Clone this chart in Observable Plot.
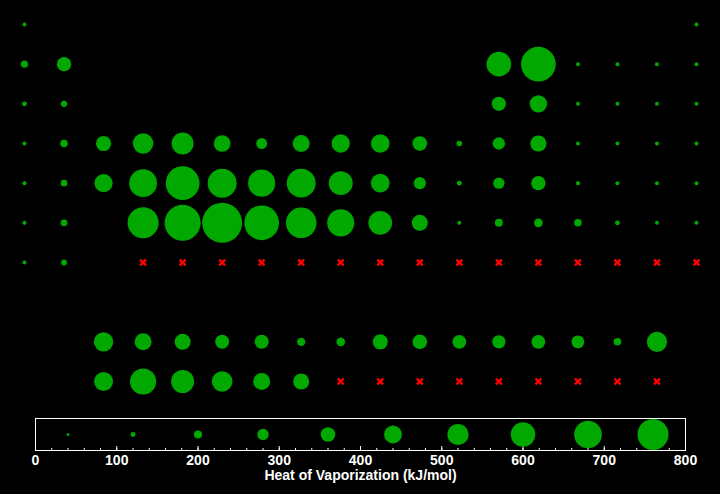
<!DOCTYPE html>
<html><head><meta charset="utf-8">
<script src="https://cdn.jsdelivr.net/npm/d3@7"></script>
<script src="https://cdn.jsdelivr.net/npm/@observablehq/plot@0.6"></script>
<style>
html,body{margin:0;padding:0;background:#000;}
#chart{width:720px;height:494px;background:#000;}
#chart svg{display:block;}
</style>
</head><body><div id="chart"></div>
<script>
// Heat of vaporization (kJ/mol); null = data missing (drawn as red ×)
const groupsP1 = [1, 18];
const heatP1 = [0.452, 0.083];
const groupsP2 = [1, 2, 13, 14, 15, 16, 17, 18];
const heatP2 = [147.1, 297, 507, 715, 2.79, 3.41, 3.27, 1.73];
const groupsP3 = [1, 2, 13, 14, 15, 16, 17, 18];
const heatP3 = [97.4, 128, 293.4, 359, 12.4, 9.8, 10.2, 6.45];
const groupsP4 = [1, 2, 3, 4, 5, 6, 7, 8, 9, 10, 11, 12, 13, 14, 15, 16, 17, 18];
const heatP4 = [76.9, 153.6, 314.2, 421, 452, 344.3, 226, 349.6, 376.5, 385, 300.3, 115.3, 254, 334, 34.8, 26.3, 15.4, 9.03];
const groupsP5 = [1, 2, 3, 4, 5, 6, 7, 8, 9, 10, 11, 12, 13, 14, 15, 16, 17, 18];
const heatP5 = [72.2, 136.9, 375, 573, 696.6, 598, 560, 595, 493, 385, 250.6, 100, 231.8, 295.8, 77.4, 52.6, 20.8, 12.6];
const groupsP6 = [1, 2, 4, 5, 6, 7, 8, 9, 10, 11, 12, 13, 14, 15, 16, 17, 18];
const heatP6 = [63.9, 140, 640, 743, 824, 715, 630, 560, 490, 330, 59.1, 165, 179.5, 155, 97, 40, 18.1];
const groupsP7 = [1, 2, 4, 5, 6, 7, 8, 9, 10, 11, 12, 13, 14, 15, 16, 17, 18];
const heatP7 = [64, 120, null, null, null, null, null, null, null, null, null, null, null, null, null];
const groupsLanthanides = [3, 4, 5, 6, 7, 8, 9, 10, 11, 12, 13, 14, 15, 16, 17];
const heatLanthanides = [400, 350, 330, 290, 290, 172, 178, 310, 300, 285, 275, 285, 265, 155, 415];
const groupsActinides = [3, 4, 5, 6, 7, 8, 9, 10, 11, 12, 13, 14, 15, 16, 17];
const heatActinides = [390, 540, 474, 425, 350, 330, null, null, null, null, null, null, null, null, null];

const rowKeys = ["1", "2", "3", "4", "5", "6", "7", "gap", "Ln", "An"];
const legendValues = [40, 120, 200, 280, 360, 440, 520, 600, 680, 760];
const axisTicks = [0, 100, 200, 300, 400, 500, 600, 700, 800];
const axisLabel = "Heat of Vaporization (kJ/mol)";

const green = "#00a800";
const font = "'Liberation Sans', Arial, Helvetica, sans-serif";

const rowsSpec = [
  ["1", groupsP1, heatP1], ["2", groupsP2, heatP2], ["3", groupsP3, heatP3],
  ["4", groupsP4, heatP4], ["5", groupsP5, heatP5], ["6", groupsP6, heatP6],
  ["7", groupsP7, heatP7], ["Ln", groupsLanthanides, heatLanthanides], ["An", groupsActinides, heatActinides]
];
const cells = [];
for (const [row, groups, heats] of rowsSpec) {
  groups.forEach((g, i) => cells.push({row, group: g, heat: heats[i] === undefined ? null : heats[i]}));
}
const present = cells.filter(d => d.heat != null);
const missing = cells.filter(d => d.heat == null);

const main = Plot.plot({
  width: 720, height: 410,
  marginLeft: 0, marginRight: 0, marginTop: 0, marginBottom: 0,
  style: {background: "#000", color: "white", fontFamily: font},
  x: {type: "point", domain: d3.range(1, 19), range: [24, 696], padding: 0, round: false, axis: null},
  y: {type: "point", domain: rowKeys, range: [24, 381], padding: 0, round: false, axis: null},
  r: {type: "linear", domain: [0, 1000], range: [0, 24.25]},
  marks: [
    Plot.dot(present, {x: "group", y: "row", r: 2, fill: green}),
    Plot.dot(present, {x: "group", y: "row", r: "heat", fill: green}),
    Plot.dot(missing, {x: "group", y: "row", symbol: "times", r: 2.8, stroke: "#ff0000", strokeWidth: 2.4})
  ]
});

const legend = Plot.plot({
  width: 720, height: 84,
  marginLeft: 35, marginRight: 35, marginTop: 8, marginBottom: 44,
  style: {background: "#000", color: "white", fontFamily: font},
  x: {type: "linear", domain: [0, 800], axis: null},
  r: {type: "linear", domain: [0, 1000], range: [0, 20.4]},
  marks: [
    Plot.frame({stroke: "white", strokeWidth: 1}),
    Plot.tickX(d3.range(0, 801, 20), {x: d => d, stroke: "white", insetTop: 30}),
    Plot.tickX(axisTicks, {x: d => d, stroke: "white", insetTop: 28}),
    Plot.dot(legendValues, {x: d => d, r: 1.5, fill: green}),
    Plot.dot(legendValues, {x: d => d, r: d => d, fill: green}),
    Plot.axisX({ticks: axisTicks, tickSize: 0, tickPadding: 5, fontSize: 14, fontWeight: "bold", fill: "white", label: null}),
    Plot.text([axisLabel], {text: d => d, frameAnchor: "bottom", lineAnchor: "middle", dy: 25, fontSize: 14, fontWeight: "bold", fill: "white"})
  ]
});

const chart = document.getElementById("chart");
chart.appendChild(main);
chart.appendChild(legend);
</script></body></html>
